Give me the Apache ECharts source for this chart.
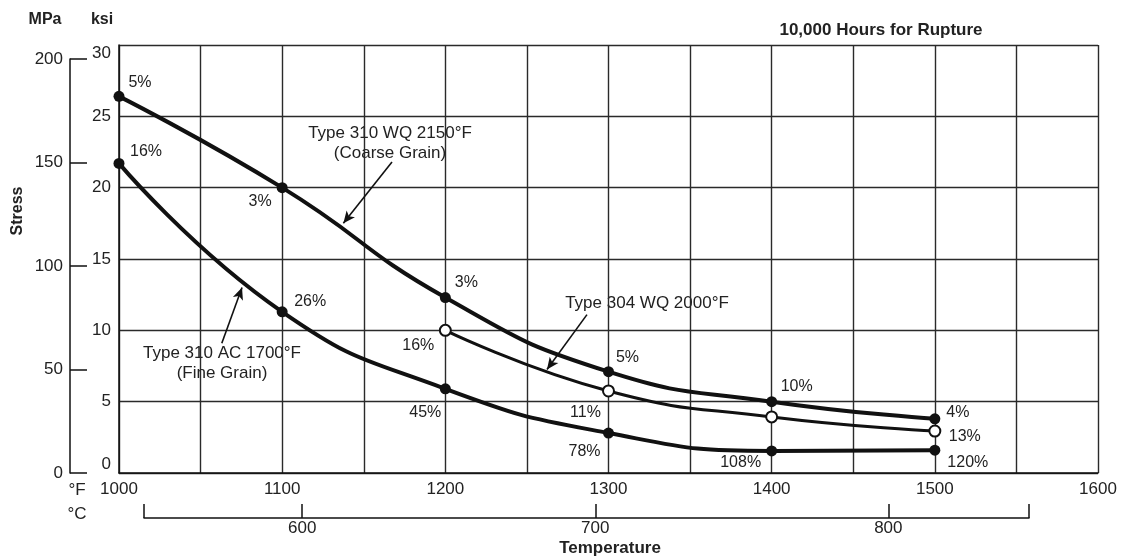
<!DOCTYPE html>
<html>
<head>
<meta charset="utf-8">
<script src="https://cdn.jsdelivr.net/npm/echarts@6/dist/echarts.min.js"></script>
<style>
  html, body { margin: 0; padding: 0; background: #fff; }
  #chart { width: 1125px; height: 560px; }
</style>
</head>
<body>
<div id="chart"></div>
<script>
// temperature in °F, stress in ksi
var tempsF = [1000, 1100, 1200, 1300, 1400, 1500];
var coarse = [26.4, 20.0, 12.3, 7.1, 5.0, 3.8];
var coarsePct = ['5%', '3%', '3%', '5%', '10%', '4%'];
var fine = [21.7, 11.3, 5.9, 2.8, 1.55, 1.6];
var finePct = ['16%', '26%', '45%', '78%', '108%', '120%'];
var temps304 = [1200, 1300, 1400, 1500];
var t304 = [10.0, 5.75, 3.93, 2.94];
var t304Pct = ['16%', '11%', '', '13%'];

var ksiTicks = [0, 5, 10, 15, 20, 25, 30];
var mpaTicks = [0, 50, 100, 150, 200];
var celsiusTicks = [600, 700, 800];

var FONT = '"Liberation Sans", Arial, sans-serif';
var INK = '#111';

// label offsets for the percent notes (pixels from the point)
var coarseOff = [[21, -14], [-22, 14], [21, -15], [19, -14], [25, -15], [23, -6]];
var fineOff = [[27, -12], [28, -10], [-20, 24], [-24, 19], [-31, 12], [33, 12]];
var off304 = [[-27, 15], [-23, 22], [0, 0], [30, 6]];

function buildData(xs, ys, pcts, offs) {
    return xs.map(function (x, i) {
        return {
            value: [x, ys[i]],
            label: {
                show: pcts[i] !== '',
                formatter: pcts[i],
                position: 'inside',
                offset: offs[i]
            }
        };
    });
}

var pctLabel = {
    color: '#222',
    fontFamily: FONT,
    fontSize: 16,
    align: 'center',
    verticalAlign: 'middle'
};

var chart = echarts.init(document.getElementById('chart'));

var option = {
    animation: false,
    backgroundColor: '#fff',
    grid: [
        { left: 119, top: 45, right: 27, bottom: 87 },
        { left: 70, top: 59, width: 1, bottom: 87 },
        { left: 144, right: 96, top: 500, bottom: 42 }
    ],
    xAxis: [{
        type: 'value',
        gridIndex: 0,
        min: 1000,
        max: 1600,
        interval: 50,
        axisLine: { show: true, lineStyle: { color: INK, width: 1.5 } },
        axisTick: { show: false },
        splitLine: { show: true, lineStyle: { color: '#2a2a2a', width: 1.4 } },
        axisLabel: {
            margin: 8,
            color: '#222',
            fontFamily: FONT,
            fontSize: 17,
            formatter: function (v) { return v % 100 === 0 ? String(v) : ''; }
        }
    }, {
        type: 'value',
        gridIndex: 1,
        show: false
    }, {
        type: 'value',
        gridIndex: 2,
        min: 546,
        max: 848,
        axisLine: { show: true, lineStyle: { color: INK, width: 1.5 } },
        axisTick: {
            show: true,
            inside: true,
            length: 14,
            lineStyle: { color: INK, width: 1.5 },
            customValues: [546].concat(celsiusTicks, [848])
        },
        splitLine: { show: false },
        axisLabel: {
            margin: 2,
            color: '#222',
            fontFamily: FONT,
            fontSize: 17,
            customValues: celsiusTicks
        }
    }],
    yAxis: [{
        type: 'value',
        gridIndex: 0,
        min: ksiTicks[0],
        max: ksiTicks[ksiTicks.length - 1],
        interval: 5,
        axisLine: { show: true, lineStyle: { color: INK, width: 1.5 } },
        axisTick: { show: false },
        splitLine: { show: true, lineStyle: { color: '#2a2a2a', width: 1.4 } },
        axisLabel: {
            margin: 8, color: '#222', fontFamily: FONT, fontSize: 17,
            verticalAlignMaxLabel: 'top',
            verticalAlignMinLabel: 'bottom'
        }
    }, {
        type: 'value',
        gridIndex: 1,
        min: mpaTicks[0],
        max: mpaTicks[mpaTicks.length - 1],
        interval: 50,
        axisLine: { show: true, lineStyle: { color: INK, width: 1.5 } },
        axisTick: { show: true, inside: true, length: 17, lineStyle: { color: INK, width: 1.5 } },
        splitLine: { show: false },
        axisLabel: { margin: 7, color: '#222', fontFamily: FONT, fontSize: 17 }
    }, {
        type: 'value',
        gridIndex: 2,
        show: false
    }],
    series: [{
        name: 'Type 310 WQ 2150°F',
        type: 'line',
        smooth: 0.5,
        symbol: 'circle',
        symbolSize: 11,
        lineStyle: { color: INK, width: 4 },
        itemStyle: { color: INK },
        label: pctLabel,
        data: buildData(tempsF, coarse, coarsePct, coarseOff),
        z: 5
    }, {
        name: 'Type 310 AC 1700°F',
        type: 'line',
        smooth: 0.5,
        symbol: 'circle',
        symbolSize: 11,
        lineStyle: { color: INK, width: 4 },
        itemStyle: { color: INK },
        label: pctLabel,
        data: buildData(tempsF, fine, finePct, fineOff),
        z: 5
    }, {
        name: 'Type 304 WQ 2000°F',
        type: 'line',
        smooth: 0.5,
        symbol: 'circle',
        symbolSize: 11,
        lineStyle: { color: INK, width: 3 },
        itemStyle: { color: '#fff', borderColor: INK, borderWidth: 2 },
        label: pctLabel,
        data: buildData(temps304, t304, t304Pct, off304),
        z: 6
    }, {
        // leader arrows for the curve names
        type: 'line',
        data: [],
        markLine: {
            silent: true,
            symbol: ['none', 'arrow'],
            symbolSize: [8, 12],
            label: { show: false },
            lineStyle: { color: INK, width: 1.6, type: 'solid' },
            data: [
                [{ coord: [1167.3, 21.8] }, { coord: [1137.5, 17.5] }],
                [{ coord: [1063.0, 9.1] }, { coord: [1075.4, 13.0] }],
                [{ coord: [1286.8, 11.1] }, { coord: [1262.3, 7.25] }]
            ]
        }
    }],
    graphic: [
        { type: 'text', x: 45, y: 20,
          style: { text: 'MPa', fill: '#222', font: 'bold 16px ' + FONT, align: 'center', verticalAlign: 'middle' } },
        { type: 'text', x: 102, y: 20,
          style: { text: 'ksi', fill: '#222', font: 'bold 16px ' + FONT, align: 'center', verticalAlign: 'middle' } },
        { type: 'text', x: 881, y: 30,
          style: { text: '10,000 Hours for Rupture', fill: '#222', font: 'bold 17px ' + FONT, align: 'center', verticalAlign: 'middle' } },
        { type: 'text', x: 18, y: 211, rotation: Math.PI / 2,
          style: { text: 'Stress', fill: '#222', font: 'bold 16px ' + FONT, align: 'center', verticalAlign: 'middle' } },
        { type: 'text', x: 610, y: 548,
          style: { text: 'Temperature', fill: '#222', font: 'bold 17px ' + FONT, align: 'center', verticalAlign: 'middle' } },
        { type: 'text', x: 77, y: 490,
          style: { text: '°F', fill: '#222', font: '17px ' + FONT, align: 'center', verticalAlign: 'middle' } },
        { type: 'text', x: 77, y: 514,
          style: { text: '°C', fill: '#222', font: '17px ' + FONT, align: 'center', verticalAlign: 'middle' } },
        { type: 'text', x: 390, y: 143,
          style: { text: 'Type 310 WQ 2150°F\n(Coarse Grain)', fill: '#222', font: '17px ' + FONT, align: 'center', verticalAlign: 'middle', lineHeight: 20 } },
        { type: 'text', x: 222, y: 363,
          style: { text: 'Type 310 AC 1700°F\n(Fine Grain)', fill: '#222', font: '17px ' + FONT, align: 'center', verticalAlign: 'middle', lineHeight: 20 } },
        { type: 'text', x: 647, y: 303,
          style: { text: 'Type 304 WQ 2000°F', fill: '#222', font: '17px ' + FONT, align: 'center', verticalAlign: 'middle' } }
    ]
};

chart.setOption(option);
</script>
</body>
</html>
